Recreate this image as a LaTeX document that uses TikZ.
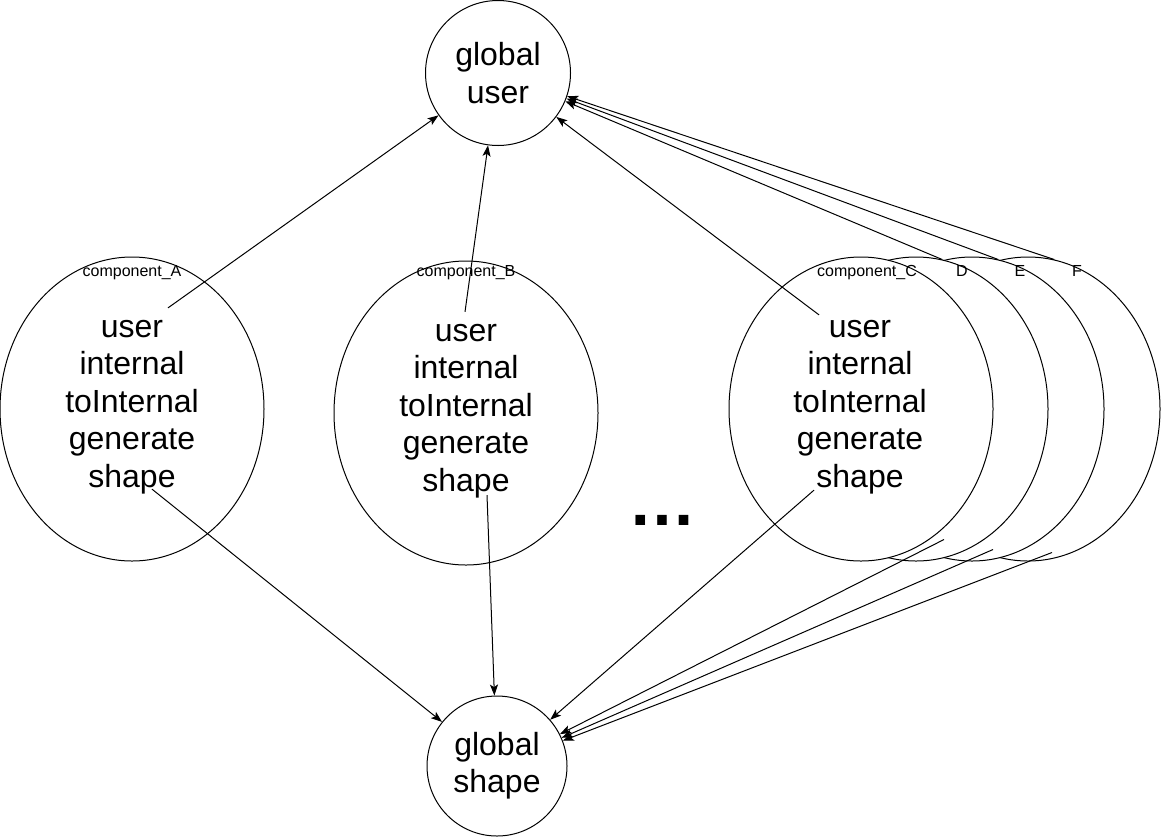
\documentclass[tikz,border=0pt]{standalone}
\usepackage{fontspec}
\setmainfont{Liberation Sans}
\usetikzlibrary{shapes.geometric,arrows.meta,positioning}

\newcommand{\bigfont}{\fontsize{32}{37.5}\selectfont}
\newcommand{\smallfont}{\fontsize{16}{19}\selectfont}

\begin{document}
\begin{tikzpicture}[
    x=1pt, y=-1pt,
    comp/.style={draw, ellipse, fill=white, line width=1pt,
      minimum width=264pt, minimum height=304pt, inner sep=0pt},
    global/.style={draw, circle, line width=1pt, inner sep=0pt,
      align=center, font=\bigfont},
    methods/.style={align=center, font=\bigfont, inner sep=0pt},
    complabel/.style={font=\smallfont, inner sep=0pt},
    link/.style={line width=1pt, -{Stealth[length=11pt,width=8pt,inset=2.5pt]}}
  ]
    \useasboundingbox (0,0) rectangle (1161,839);

    \node[global, minimum size=145pt] (gu) at (498,73)  {global\\user};
    \node[global, minimum size=140pt] (gs) at (497,766) {\raisebox{-3pt}{\shortstack{global\\[4pt]shape}}};

    % stacked components, back to front
    \node[comp] (F) at (1028,409) {};
    \node[comp] (E) at (972,409)  {};
    \node[comp] (D) at (916,409)  {};
    \node[comp] (C) at (861,409)  {};
    \node[comp] (A) at (132,409)  {};
    \node[comp] (B) at (466,413)  {};

    \node[complabel, below=9pt of A.north]              (labA) {component\_A};
    \node[complabel, below=5pt of B.north]              (labB) {component\_B};
    \node[complabel, below=9pt of C.north, xshift=6pt]  (labC) {component\_C};
    \node[complabel, below=9pt of D.north, xshift=46pt] (labD) {D};
    \node[complabel, below=9pt of E.north, xshift=48pt] (labE) {E};
    \node[complabel, below=9pt of F.north, xshift=49pt] (labF) {F};

    \node[methods] (mA) at (132,407) {user\\internal\\toInternal\\generate\\shape};
    \node[methods] (mB) at (466,411) {user\\internal\\toInternal\\generate\\shape};
    \node[methods] (mC) at (860,407) {user\\internal\\toInternal\\generate\\shape};

    \node[font=\fontsize{68}{80}\selectfont\bfseries] (dots) at (662,520) {…};

    % user links
    \draw[link] ([xshift=36pt,yshift=12pt]mA.north) -- (gu);
    \draw[link] ([xshift=-1pt,yshift=12pt]mB.north) -- (gu);
    \draw[link] ([xshift=-41pt,yshift=5pt]mC.north) -- (gu);
    \draw[link] (D.80) -- (gu);
    \draw[link] (E.80) -- (gu);
    \draw[link] (F.80) -- (gu);

    % shape links
    \draw[link] ([xshift=20pt,yshift=5pt]mA.south)  -- (gs);
    \draw[link] ([xshift=21pt,yshift=3pt]mB.south)  -- (gs);
    \draw[link] ([xshift=-46pt,yshift=4pt]mC.south) -- (gs);
    \draw[link] ([xshift=28pt,yshift=22pt]D.south)  -- (gs);
    \draw[link] ([xshift=21pt,yshift=12pt]E.south)  -- (gs);
    \draw[link] ([xshift=24pt,yshift=9pt]F.south)   -- (gs);
\end{tikzpicture}
\end{document}
